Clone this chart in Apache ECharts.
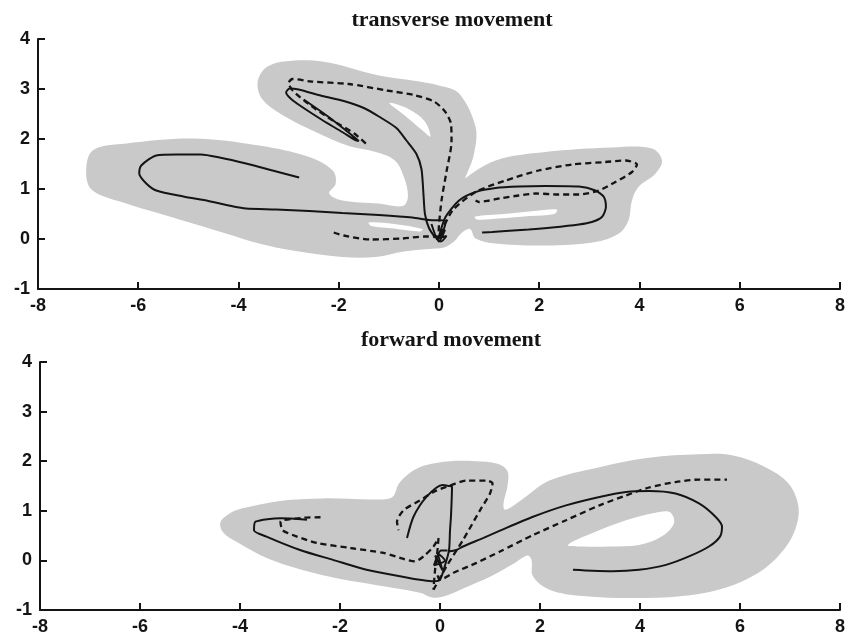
<!DOCTYPE html>
<html>
<head>
<meta charset="utf-8">
<script src="https://cdn.jsdelivr.net/npm/echarts@6/dist/echarts.min.js"></script>
<style>
  html, body { margin: 0; padding: 0; background: #fff; }
  #chart { width: 848px; height: 636px; }
</style>
</head>
<body>
<div id="chart"></div>
<script>
// Axis ticks shared by both panels
const xTicks = [-8, -6, -4, -2, 0, 2, 4, 6, 8];
const yTicks = [-1, 0, 1, 2, 3, 4];
const panelTitles = ['transverse movement', 'forward movement'];

// ---- transverse movement ----
// grey envelope (outline) and white gaps inside it
const transEnvelope = [
  [-7.04, 1.31], [-6.91, 1.77], [-6.24, 1.91], [-4.91, 2.01], [-3.59, 1.87], [-2.59, 1.64],
  [-2.12, 1.37], [-2.06, 1.11], [-2.19, 0.91], [-1.93, 0.77], [-1.2, 0.71], [-0.72, 0.66],
  [-0.62, 0.85], [-0.7, 1.24], [-0.88, 1.57], [-1.26, 1.74], [-1.8, 1.86], [-2.44, 2.13],
  [-3.09, 2.46], [-3.52, 2.79], [-3.62, 3.13], [-3.46, 3.42], [-3.09, 3.55], [-2.33, 3.55],
  [-1.2, 3.27], [-0.53, 3.17], [0.0, 3.07], [0.4, 2.91], [0.73, 2.24], [0.7, 1.71],
  [0.56, 1.31], [0.46, 1.11], [0.46, 1.17], [1.13, 1.57], [2.12, 1.74], [3.45, 1.83],
  [4.25, 1.81], [4.45, 1.57], [4.32, 1.31], [3.98, 1.04], [3.85, 0.77], [3.78, 0.37],
  [3.59, 0.11], [3.12, -0.06], [2.12, -0.13], [1.13, -0.09], [0.73, 0.01], [0.62, 0.2],
  [0.45, 0.12], [0.3, -0.05], [0.1, -0.17], [-0.2, -0.2], [-0.7, -0.25], [-1.26, -0.36],
  [-1.93, -0.36], [-2.92, -0.23], [-3.59, -0.09], [-4.25, 0.11], [-4.91, 0.31],
  [-5.58, 0.51], [-6.24, 0.71], [-6.91, 0.97]
];
const transGaps = [
  [[-0.99, 2.72], [-0.61, 2.6], [-0.29, 2.36], [-0.17, 2.05], [-0.34, 2.18], [-0.72, 2.5]],
  [[-1.4, 0.33], [-0.9, 0.3], [-0.33, 0.2], [-0.38, 0.15], [-0.9, 0.21], [-1.35, 0.26]],
  [[0.72, 0.45], [1.3, 0.5], [1.9, 0.56], [2.35, 0.59], [2.3, 0.5], [1.8, 0.46], [1.2, 0.41], [0.75, 0.39]]
];
// solid trajectory
const transSolidLeft = [
  [-2.79, 1.23], [-3.32, 1.37], [-3.85, 1.51], [-4.38, 1.63], [-4.75, 1.69], [-5.24, 1.69],
  [-5.64, 1.67], [-5.94, 1.47], [-5.98, 1.31], [-5.84, 1.11], [-5.64, 0.97], [-5.1, 0.85],
  [-4.6, 0.76], [-4.1, 0.65], [-3.85, 0.61], [-3.25, 0.59], [-2.59, 0.56], [-1.93, 0.52],
  [-1.2, 0.48], [-0.53, 0.43], [-0.2, 0.38], [0.13, 0.37], [0.1, 0.2], [0.02, 0.02]
];
const transSolidUp = [
  [-0.07, 0.02], [-0.2, 0.22], [-0.28, 0.5], [-0.31, 0.9], [-0.35, 1.4], [-0.45, 1.7],
  [-0.65, 1.97], [-0.85, 2.22], [-1.2, 2.45], [-1.5, 2.62], [-1.9, 2.76], [-2.33, 2.86],
  [-2.8, 2.99], [-2.98, 3.01], [-3.05, 2.93], [-2.95, 2.8], [-2.76, 2.66], [-2.33, 2.38],
  [-1.9, 2.12], [-1.67, 1.98], [-1.6, 1.96], [-1.72, 2.06], [-2.2, 2.44], [-2.7, 2.79]
];
const transSolidRight = [
  [0.0, 0.05], [0.13, 0.44], [0.4, 0.77], [0.73, 0.94], [1.13, 1.02], [1.59, 1.05],
  [2.12, 1.06], [2.79, 1.05], [3.12, 0.97], [3.29, 0.84], [3.33, 0.64], [3.25, 0.44],
  [3.05, 0.34], [2.79, 0.29], [2.26, 0.23], [1.79, 0.19], [1.33, 0.16], [1.06, 0.14], [0.86, 0.13]
];
const transSolidCentre = [
  [-0.15, 0.3], [0.0, -0.05], [0.12, 0.18], [-0.06, 0.0], [0.15, 0.06], [0.04, -0.05], [-0.1, 0.1]
];
// dashed trajectory
const transDashUp = [
  [-2.1, 0.13], [-1.9, 0.07], [-1.37, -0.01], [-0.72, 0.01], [-0.29, 0.05], [-0.03, 0.05],
  [0.0, 0.3], [0.05, 0.77], [0.15, 1.35], [0.25, 1.95], [0.24, 2.3], [0.12, 2.55],
  [-0.1, 2.75], [-0.5, 2.88], [-1.04, 2.97], [-1.8, 3.1], [-2.55, 3.15], [-2.92, 3.2],
  [-3.0, 3.12], [-2.92, 2.97], [-2.55, 2.66], [-2.12, 2.37], [-1.69, 2.11], [-1.42, 1.87]
];
const transDashRight = [
  [0.03, 0.1], [0.27, 0.57], [0.73, 0.94], [1.33, 1.17], [1.99, 1.37], [2.66, 1.49],
  [3.32, 1.54], [3.72, 1.57], [3.95, 1.49], [3.85, 1.34], [3.52, 1.14], [3.19, 0.97],
  [2.79, 0.89], [2.39, 0.89], [1.93, 0.91], [1.59, 0.87], [1.26, 0.82], [1.0, 0.77],
  [0.8, 0.74], [0.73, 0.77]
];

// ---- forward movement ----
const fwdEnvelope = [
  [-4.39, 0.77], [-4.2, 0.95], [-3.95, 1.05], [-3.2, 1.2], [-2.34, 1.25], [-1.26, 1.23],
  [-0.95, 1.28], [-0.82, 1.55], [-0.55, 1.8], [-0.29, 1.92], [0.2, 2.0], [0.7, 2.0],
  [1.15, 1.95], [1.35, 1.8], [1.35, 1.5], [1.27, 1.15], [1.3, 1.02], [1.6, 1.2],
  [2.19, 1.61], [3.19, 1.88], [4.18, 2.07], [5.18, 2.14], [5.84, 2.12], [6.51, 1.88],
  [6.97, 1.55], [7.17, 1.08], [7.1, 0.61], [6.82, 0.15], [6.37, -0.25], [5.71, -0.55],
  [4.85, -0.72], [3.84, -0.76], [2.86, -0.72], [2.19, -0.59], [1.86, -0.32], [1.83, 0.01],
  [1.75, 0.1], [1.45, -0.08], [1.0, -0.33], [0.5, -0.55], [0.1, -0.72], [-0.15, -0.75],
  [-0.4, -0.65], [-1.26, -0.5], [-2.34, -0.3], [-3.42, 0.03], [-4.06, 0.37], [-4.34, 0.57]
];
const fwdGaps = [
  [[2.56, 0.31], [3.05, 0.55], [3.72, 0.81], [4.31, 0.96], [4.6, 0.97], [4.68, 0.75],
   [4.43, 0.48], [3.98, 0.31], [3.39, 0.28], [2.86, 0.28]]
];
const fwdSolidLeft = [
  [-2.66, 0.82], [-3.19, 0.85], [-3.69, 0.78], [-3.72, 0.61], [-3.47, 0.48], [-2.8, 0.21],
  [-2.14, 0.01], [-1.47, -0.19], [-0.8, -0.32], [-0.13, -0.42], [0.0, -0.39], [0.1, -0.1],
  [0.18, 0.2], [0.2, 0.6], [0.22, 0.9], [0.24, 1.48], [0.17, 1.5], [0.05, 1.52],
  [-0.27, 1.28], [-0.53, 0.88], [-0.66, 0.45]
];
const fwdSolidRight = [
  [0.17, 0.18], [0.33, 0.21], [0.46, 0.28], [0.86, 0.45], [1.2, 0.6], [1.86, 0.88],
  [2.52, 1.11], [3.19, 1.28], [3.72, 1.38], [4.18, 1.4], [4.71, 1.35], [5.18, 1.15],
  [5.51, 0.88], [5.64, 0.68], [5.6, 0.48], [5.38, 0.28], [4.98, 0.08], [4.52, -0.09],
  [3.98, -0.19], [3.45, -0.22], [3.05, -0.21], [2.66, -0.19]
];
const fwdSolidCentre = [
  [-0.1, 0.1], [0.05, -0.2], [-0.05, 0.15], [0.1, 0.0], [-0.12, -0.1], [0.02, 0.2], [0.15, 0.2]
];
const fwdDashLeft = [
  [-2.39, 0.87], [-2.72, 0.86], [-3.19, 0.78], [-3.15, 0.61], [-2.86, 0.48], [-2.46, 0.35],
  [-1.79, 0.25], [-1.13, 0.15], [-0.73, 0.03], [-0.5, -0.02], [-0.33, 0.08], [-0.13, 0.28],
  [-0.03, 0.45], [-0.06, 0.1], [-0.1, -0.2], [-0.13, -0.59]
];
const fwdDashUp = [
  [-0.13, -0.59], [0.13, -0.12], [0.46, 0.41], [0.8, 1.01], [1.0, 1.35], [1.05, 1.55],
  [0.93, 1.61], [0.53, 1.61], [0.2, 1.51], [-0.13, 1.38], [-0.4, 1.21], [-0.73, 1.01],
  [-0.86, 0.78], [-0.83, 0.61]
];
const fwdDashRight = [
  [-0.05, -0.3], [0.0, -0.39], [0.27, -0.25], [0.73, -0.05], [1.2, 0.18], [1.86, 0.51],
  [2.52, 0.81], [3.19, 1.11], [3.72, 1.31], [4.18, 1.47], [4.71, 1.58], [5.18, 1.63], [5.74, 1.63]
];

const GREY = '#c9c9c9';
const INK = '#141414';

// filled outline, converted point by point through the panel's axes
function region(points, fill, panel, z) {
  return {
    type: 'custom',
    xAxisIndex: panel, yAxisIndex: panel,
    silent: true, z: z,
    data: [[0, 0]],
    renderItem: function (params, api) {
      return {
        type: 'polygon',
        shape: { points: points.map(function (p) { return api.coord(p); }), smooth: 0.35 },
        style: { fill: fill }
      };
    }
  };
}

function trace(points, dashed, panel) {
  return {
    type: 'line',
    xAxisIndex: panel, yAxisIndex: panel,
    data: points,
    showSymbol: false, silent: true,
    smooth: 0.25,
    z: 5,
    lineStyle: dashed
      ? { color: INK, width: 2.3, type: [6, 4] }
      : { color: INK, width: 2 }
  };
}

const labelStyle = { color: INK, fontFamily: 'Liberation Sans, Arial, sans-serif', fontWeight: 'bold', fontSize: 18, margin: 8 };

function xAxis(panel) {
  return {
    gridIndex: panel, type: 'value', min: xTicks[0], max: xTicks[xTicks.length - 1], interval: 2,
    axisLine: { show: true, onZero: false, lineStyle: { color: INK, width: 2 } },
    axisTick: { show: true, inside: true, length: 7, lineStyle: { color: INK, width: 2 } },
    splitLine: { show: false },
    axisLabel: labelStyle
  };
}
function yAxis(panel) {
  return {
    gridIndex: panel, type: 'value', min: yTicks[0], max: yTicks[yTicks.length - 1], interval: 1,
    axisLine: { show: true, onZero: false, lineStyle: { color: INK, width: 2 } },
    axisTick: { show: true, inside: true, length: 7, lineStyle: { color: INK, width: 2 } },
    splitLine: { show: false },
    axisLabel: labelStyle
  };
}

const series = [];
series.push(region(transEnvelope, GREY, 0, 1));
transGaps.forEach(function (g) { series.push(region(g, '#ffffff', 0, 2)); });
series.push(region(fwdEnvelope, GREY, 1, 1));
fwdGaps.forEach(function (g) { series.push(region(g, '#ffffff', 1, 2)); });

[transSolidLeft, transSolidUp, transSolidRight, transSolidCentre].forEach(function (s) { series.push(trace(s, false, 0)); });
[transDashUp, transDashRight].forEach(function (s) { series.push(trace(s, true, 0)); });
[fwdSolidLeft, fwdSolidRight, fwdSolidCentre].forEach(function (s) { series.push(trace(s, false, 1)); });
[fwdDashLeft, fwdDashUp, fwdDashRight].forEach(function (s) { series.push(trace(s, true, 1)); });

const titleStyle = { fontFamily: 'Liberation Serif, Times New Roman, serif', fontWeight: 'bold', fontSize: 22, color: INK };

const chart = echarts.init(document.getElementById('chart'), null, { renderer: 'canvas' });
chart.setOption({
  animation: false,
  backgroundColor: '#ffffff',
  title: [
    { text: panelTitles[0], left: 447, top: 4, textAlign: 'center', textStyle: titleStyle },
    { text: panelTitles[1], left: 446, top: 324, textAlign: 'center', textStyle: titleStyle }
  ],
  grid: [
    { left: 38, right: 6, top: 39, height: 250 },
    { left: 40, right: 6, top: 362, height: 249 }
  ],
  xAxis: [xAxis(0), xAxis(1)],
  yAxis: [yAxis(0), yAxis(1)],
  series: series
});
</script>
</body>
</html>
